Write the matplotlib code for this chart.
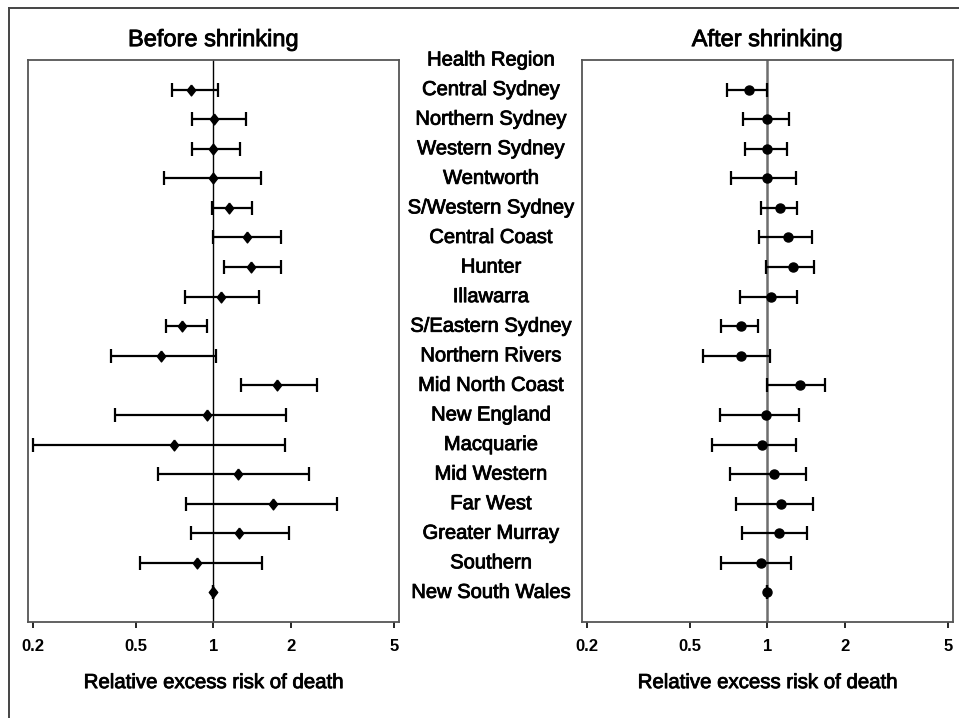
import numpy as np
import matplotlib
matplotlib.use('Agg')
import matplotlib.pyplot as plt
import matplotlib.patheffects as pe
from matplotlib.lines import Line2D
from matplotlib.transforms import blended_transform_factory

plt.rcParams['font.family'] = ['Liberation Sans', 'DejaVu Sans']

regions = [
    'Central Sydney', 'Northern Sydney', 'Western Sydney', 'Wentworth',
    'S/Western Sydney', 'Central Coast', 'Hunter', 'Illawarra',
    'S/Eastern Sydney', 'Northern Rivers', 'Mid North Coast', 'New England',
    'Macquarie', 'Mid Western', 'Far West', 'Greater Murray', 'Southern',
    'New South Wales',
]

# relative excess risk, before shrinking (estimate, lower, upper)
before_est = [0.816, 1.004, 1.000, 1.000, 1.151, 1.349, 1.394, 1.069, 0.755,
              0.626, 1.758, 0.946, 0.705, 1.248, 1.705, 1.259, 0.865, 1.000]
before_lo = [0.689, 0.828, 0.823, 0.643, 0.987, 1.000, 1.098, 0.775, 0.653,
             0.401, 1.275, 0.416, 0.200, 0.609, 0.782, 0.820, 0.519, 1.000]
before_hi = [1.044, 1.333, 1.270, 1.532, 1.410, 1.822, 1.822, 1.500, 0.944,
             1.023, 2.518, 1.905, 1.893, 2.351, 3.018, 1.956, 1.542, 1.000]

# after shrinking
after_est = [0.849, 1.000, 0.997, 1.000, 1.116, 1.202, 1.256, 1.036, 0.788,
             0.793, 1.334, 0.991, 0.948, 1.061, 1.126, 1.106, 0.944, 1.000]
after_lo = [0.694, 0.802, 0.815, 0.723, 0.944, 0.928, 0.991, 0.786, 0.661,
            0.563, 1.000, 0.655, 0.608, 0.714, 0.758, 0.795, 0.659, 1.000]
after_hi = [1.000, 1.206, 1.185, 1.291, 1.302, 1.481, 1.512, 1.296, 0.917,
            1.027, 1.672, 1.319, 1.291, 1.407, 1.502, 1.420, 1.235, 1.000]

xticks = [0.2, 0.5, 1, 2, 5]
xtick_labels = ['0.2', '0.5', '1', '2', '5']

W, H = 959, 718
fig = plt.figure(figsize=(W / 100, H / 100), dpi=100)

# slightly heavier strokes for all text
heavy = [pe.withStroke(linewidth=0.6, foreground='black')]

# narrow diamond marker
diamond = [(0, 1), (0.78, 0), (0, -1), (-0.78, 0), (0, 1)]


def px_axes(x0, y0, x1, y1):
    return fig.add_axes([x0 / W, 1 - y1 / H, (x1 - x0) / W, (y1 - y0) / H])


ax_l = px_axes(28, 60, 399, 622)
ax_r = px_axes(582, 60, 953, 622)

rows = np.arange(1, len(regions) + 1)


def forest(ax, est, lo, hi, marker, ms, refcolor, reflw, title):
    est = np.array(est)
    err = [est - np.array(lo), np.array(hi) - est]
    ax.axvline(1, color=refcolor, lw=reflw, zorder=1)
    ax.errorbar(est, rows, xerr=err, fmt='none', ecolor='black',
                elinewidth=1.6, capsize=5.3, capthick=1.6, zorder=3)
    ax.plot(est, rows, ls='none', marker=marker, ms=ms, color='black',
            zorder=4)
    ax.set_xscale('log')
    ax.set_xlim(0.1914, 5.225)
    ax.set_ylim(19, 0)
    ax.set_yticks([])
    ax.set_xticks(xticks)
    ax.set_xticklabels(xtick_labels, fontweight='bold', fontsize=12)
    ax.minorticks_off()
    ax.tick_params(axis='x', direction='out', length=4, width=1.2, pad=8,
                   color='black')
    for s in ax.spines.values():
        s.set_color('#555555')
        s.set_linewidth(1.3)
    t = ax.set_title(title, fontsize=17, pad=10)
    t.set_path_effects(heavy)
    xl = ax.set_xlabel('Relative excess risk of death', fontsize=14.7,
                       labelpad=14)
    xl.set_path_effects(heavy)


forest(ax_l, before_est, before_lo, before_hi, diamond, 7.8, 'black', 1.0,
       'Before shrinking')
forest(ax_r, after_est, after_lo, after_hi, 'o', 6.5, '#6e6e6e', 1.8,
       'After shrinking')

# region names in the column between the panels
trans = blended_transform_factory(fig.transFigure, ax_l.transData)
ax_l.text(491 / W, 0, 'Health Region', transform=trans, ha='center',
          va='center', fontsize=14.5, clip_on=False, path_effects=heavy)
for y, name in zip(rows, regions):
    ax_l.text(491 / W, y, name, transform=trans, ha='center', va='center',
              fontsize=14.5, clip_on=False, path_effects=heavy)

# outer frame (top and left edges)
fig.add_artist(Line2D([8.5 / W, 1], [1 - 7.5 / H, 1 - 7.5 / H],
                      transform=fig.transFigure, color='#444444', lw=1.4))
fig.add_artist(Line2D([8.5 / W, 8.5 / W], [0, 1 - 7.5 / H],
                      transform=fig.transFigure, color='#444444', lw=1.4))

fig.savefig('out.png', dpi=100, facecolor='white')
